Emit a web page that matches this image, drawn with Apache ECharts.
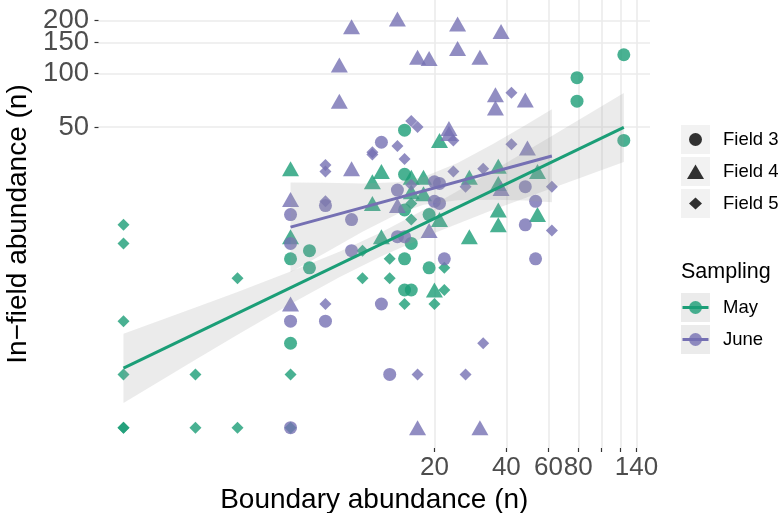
<!DOCTYPE html>
<html><head><meta charset="utf-8">
<script src="https://cdn.jsdelivr.net/npm/echarts@6/dist/echarts.min.js"></script>
<style>html,body{margin:0;padding:0;background:#fff}#c{width:779px;height:513px}</style>
</head><body><div id="c"></div>
<script>
// ---- data (boundary abundance x, in-field abundance y) ----
const mayField3 = [[15,48],[79,95],[124,128],[79,70],[124,42],[15,27],[15,17],[19,16],[16,11],[6,10],[5,9],[6,8],[15,9],[19,8],[15,6],[16,6],[5,3]];
const mayField4 = [[21,42],[5,29],[12,28],[11,24.5],[16,26],[18,26],[16,21.5],[18,21],[11,18.5],[21,15],[5,12],[12,12],[20,6],[37,30],[28,26],[54,28],[37,24],[37,17],[37,14],[54,16],[28,12]];
const mayField5 = [[16,18.5],[16,15],[10,10],[13,9],[22,8],[10,7],[13,7],[22,6],[15,5],[20,5],[5,2],[5,1],[1,14],[1,11],[3,7],[1,4],[1,2],[2,2],[1,1],[1,1],[2,1],[3,1]];
const juneField3 = [[12,41],[14,22],[20,24.5],[21,24],[7,18],[20,19],[21,18.5],[5,16],[9,15],[14,12],[15,12],[5,11],[9,10],[22,9],[12,5],[5,4],[7,4],[13,2],[5,1],[48,23],[53,19],[48,14],[53,9]];
const juneField4 = [[9,184],[14,204],[25,191],[38,173],[25,139],[17,124],[19,122],[8,112],[8,70],[31,124],[36,76],[48,71],[36,64],[23,49],[23,46],[49,38],[9,29],[5,19.5],[14,18],[19,13],[38,22.5],[5,5],[17,1],[31,1]];
const juneField5 = [[16,54],[17,50],[24,42],[14,39],[11,36],[11,35],[15,33],[42,78],[42,40],[7,30.5],[7,28],[24,28],[16,23.5],[27,23],[7,19],[32,29],[62,23],[62,13],[7,5],[17,2],[27,2],[32,3]];

const mayLineX = [1, 124];
const mayLineY = [2.17, 49.8];
const juneLineX = [5, 62];
const juneLineY = [13.6, 34.3];

const mayBandX  = [1, 2, 3, 5, 8, 12, 20, 35, 60, 124];
const mayBandLo = [1.38, 2.42, 3.35, 5.0, 7.09, 9.32, 12.6, 17.0, 22.2, 31.7];
const mayBandHi = [3.40, 4.77, 5.84, 7.62, 9.88, 12.7, 18.3, 28.2, 43.3, 77.9];
const juneBandX  = [5, 7, 10, 14, 18, 25, 35, 48, 62];
const juneBandLo = [7.55, 9.73, 12.8, 16.1, 18.2, 19.3, 19.4, 19.2, 18.8];
const juneBandHi = [24.3, 24.2, 24.0, 24.4, 26.1, 31.3, 40.0, 51.1, 62.9];

const xTickValues = [20, 40, 60, 80, 100, 120, 140];
const xLabelValues = [20, 40, 60, 80, 140];
const yTickValues = [50, 100, 150, 200];
const yLabelValuesA = [50, 100, 200];   // drawn on the main y axis
const yLabelValuesB = [150];            // drawn on an overlaid twin axis (avoids auto-hiding of touching labels)

const GREEN = '#1B9E77', PURPLE = '#7570B3';
const FONT = 'Liberation Sans, Arial, sans-serif';
const Y_MIN = 0.768, Y_MAX = 260.9;

function scatter(name, data, color, symbol, size) {
  return { name, type: 'scatter', data, symbol, symbolSize: size, z: 2,
    itemStyle: { color, opacity: 0.8 }, silent: true };
}
function band(xs, lo, hi) {
  return { type: 'custom', silent: true, z: 3, data: [[xs[0], lo[0]]],
    renderItem: function (params, api) {
      const pts = [];
      for (let i = 0; i < xs.length; i++) pts.push(api.coord([xs[i], hi[i]]));
      for (let i = xs.length - 1; i >= 0; i--) pts.push(api.coord([xs[i], lo[i]]));
      return { type: 'polygon', shape: { points: pts }, style: { fill: 'rgba(153,153,153,0.2)' } };
    } };
}
function line(name, xs, ys, color) {
  return { name, type: 'line', data: xs.map((x, i) => [x, ys[i]]), symbol: 'none', z: 4,
    lineStyle: { color, width: 3 }, silent: true };
}

const yLabelStyle = { fontSize: 27.5, color: '#4D4D4D', margin: 9.5, fontFamily: FONT,
  hideOverlap: false, showMinLabel: true, showMaxLabel: true };

const chart = echarts.init(document.getElementById('c'), null, { renderer: 'canvas' });
const keyBg = '#F2F2F2';
const lx = 681, tx = 723;
const legendText = (t, y) => ({ type: 'text', x: tx, y, style: { text: t, fontSize: 18.5, fill: '#000', verticalAlign: 'middle', fontFamily: FONT } });
chart.setOption({
  animation: false,
  textStyle: { fontFamily: FONT },
  grid: { left: 98.5, right: 129, top: 0, bottom: 65, outerBoundsMode: 'none', containLabel: false },
  xAxis: {
    type: 'log', logBase: 10, min: 0.786, max: 159.6,
    name: 'Boundary abundance (n)', nameLocation: 'middle', nameGap: 31,
    nameTextStyle: { fontSize: 28, color: '#000', fontFamily: FONT },
    axisLine: { show: false },
    axisTick: { show: true, customValues: xTickValues, length: 4, lineStyle: { color: '#333', width: 1.2 } },
    axisLabel: { customValues: xLabelValues, fontSize: 26, color: '#4D4D4D', margin: 7, fontFamily: FONT,
      hideOverlap: false, showMinLabel: true, showMaxLabel: true },
    splitLine: { show: true, lineStyle: { color: '#EBEBEB', width: 1.6 } },
    minorSplitLine: { show: false }
  },
  yAxis: [{
    type: 'log', logBase: 10, min: Y_MIN, max: Y_MAX, position: 'left',
    name: 'In\u2212field abundance (n)', nameLocation: 'middle', nameGap: 57,
    nameTextStyle: { fontSize: 28, color: '#000', fontFamily: FONT },
    axisLine: { show: false },
    axisTick: { show: true, customValues: yTickValues, length: 4, lineStyle: { color: '#333', width: 1.2 } },
    axisLabel: Object.assign({ customValues: yLabelValuesA }, yLabelStyle),
    splitLine: { show: true, lineStyle: { color: '#EBEBEB', width: 1.6 } }
  }, {
    type: 'log', logBase: 10, min: Y_MIN, max: Y_MAX, position: 'left', offset: 0,
    axisLine: { show: false },
    axisTick: { show: false },
    axisLabel: Object.assign({ customValues: yLabelValuesB }, yLabelStyle),
    splitLine: { show: false }
  }],
  series: [
    scatter('May Field 3', mayField3, GREEN, 'circle', 13),
    scatter('May Field 4', mayField4, GREEN, 'triangle', [17, 15]),
    scatter('May Field 5', mayField5, GREEN, 'diamond', [12, 12]),
    scatter('June Field 3', juneField3, PURPLE, 'circle', 13),
    scatter('June Field 4', juneField4, PURPLE, 'triangle', [17, 15]),
    scatter('June Field 5', juneField5, PURPLE, 'diamond', [12, 12]),
    band(mayBandX, mayBandLo, mayBandHi),
    band(juneBandX, juneBandLo, juneBandHi),
    line('May', mayLineX, mayLineY, GREEN),
    line('June', juneLineX, juneLineY, PURPLE)
  ],
  graphic: [
    { type: 'rect', shape: { x: lx, y: 125, width: 29, height: 29 }, style: { fill: keyBg } },
    { type: 'rect', shape: { x: lx, y: 157, width: 29, height: 29 }, style: { fill: keyBg } },
    { type: 'rect', shape: { x: lx, y: 189, width: 29, height: 29 }, style: { fill: keyBg } },
    { type: 'circle', shape: { cx: lx + 14.5, cy: 139.5, r: 6.5 }, style: { fill: 'rgba(0,0,0,0.8)' } },
    { type: 'polygon', shape: { points: [[lx + 14.5, 164.5], [lx + 23, 179], [lx + 6, 179]] }, style: { fill: 'rgba(0,0,0,0.8)' } },
    { type: 'polygon', shape: { points: [[lx + 14.5, 197.5], [lx + 21, 203.5], [lx + 14.5, 209.5], [lx + 8, 203.5]] }, style: { fill: 'rgba(0,0,0,0.8)' } },
    legendText('Field 3', 139.5),
    legendText('Field 4', 171.5),
    legendText('Field 5', 203.5),
    { type: 'text', x: lx, y: 272, style: { text: 'Sampling', fontSize: 21.5, fill: '#000', verticalAlign: 'middle', fontFamily: FONT } },
    { type: 'rect', shape: { x: lx, y: 293, width: 29, height: 29 }, style: { fill: '#EBEBEB' } },
    { type: 'rect', shape: { x: lx, y: 325, width: 29, height: 29 }, style: { fill: '#EBEBEB' } },
    { type: 'line', shape: { x1: lx + 1.5, y1: 307.5, x2: lx + 27.5, y2: 307.5 }, style: { stroke: GREEN, lineWidth: 3 } },
    { type: 'circle', shape: { cx: lx + 14.5, cy: 307.5, r: 6.5 }, style: { fill: GREEN, opacity: 0.8 } },
    { type: 'line', shape: { x1: lx + 1.5, y1: 339.5, x2: lx + 27.5, y2: 339.5 }, style: { stroke: PURPLE, lineWidth: 3 } },
    { type: 'circle', shape: { cx: lx + 14.5, cy: 339.5, r: 6.5 }, style: { fill: PURPLE, opacity: 0.8 } },
    legendText('May', 307.5),
    legendText('June', 339.5)
  ]
});
</script></body></html>
